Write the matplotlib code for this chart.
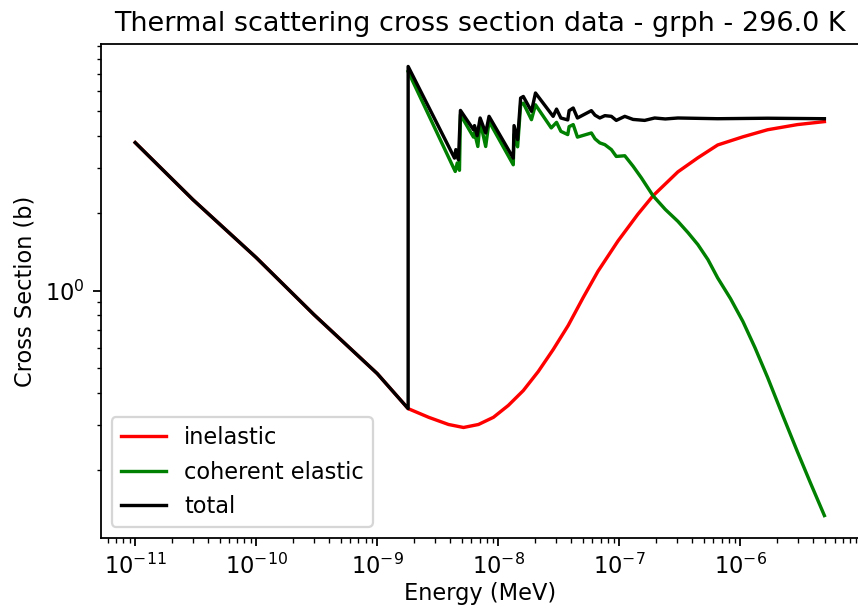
import numpy as np
import matplotlib
matplotlib.use("Agg")
import matplotlib.pyplot as plt

# energies in MeV, cross sections in barns
inel_E = [1e-11, 3e-11, 1e-10, 3e-10, 1e-9, 1.80e-9, 2.66e-9, 3.88e-9, 5.16e-9,
          6.86e-9, 9.12e-9, 1.21e-8, 1.61e-8, 2.14e-8, 2.84e-8, 3.78e-8, 5.02e-8,
          6.67e-8, 9.75e-8, 1.42e-7, 1.90e-7, 3.05e-7, 4.46e-7, 6.50e-7, 1.05e-6,
          1.68e-6, 2.96e-6, 4.95e-6]
inel_xs = [3.77, 2.26, 1.344, 0.806, 0.475, 0.347, 0.321, 0.301, 0.293,
           0.301, 0.321, 0.357, 0.408, 0.484, 0.589, 0.731, 0.938,
           1.19, 1.56, 1.98, 2.34, 2.90, 3.29, 3.69, 3.97,
           4.23, 4.43, 4.55]

coh_E = [1.80e-9, 4.41e-9, 4.58e-9, 4.78e-9, 4.87e-9, 6.24e-9, 6.36e-9, 6.78e-9,
         7.08e-9, 7.87e-9, 8.39e-9, 1.33e-8, 1.35e-8, 1.445e-8, 1.53e-8, 1.61e-8,
         1.88e-8, 2.03e-8, 2.74e-8, 3.03e-8, 3.29e-8, 3.75e-8, 3.85e-8, 4.16e-8,
         4.51e-8, 5.88e-8, 6.30e-8, 6.90e-8, 7.60e-8, 8.60e-8, 9.44e-8, 1.11e-7,
         1.30e-7, 1.52e-7, 1.90e-7, 2.40e-7, 3.05e-7, 3.70e-7, 4.46e-7, 5.40e-7,
         6.50e-7, 8.30e-7, 1.05e-6, 1.32e-6, 1.68e-6, 2.22e-6, 2.96e-6, 3.80e-6,
         4.95e-6]
coh_xs = [7.13, 2.91, 3.14, 2.94, 4.84, 3.96, 4.13, 3.64,
          4.56, 3.64, 4.56, 3.09, 4.05, 3.63, 5.29, 5.37,
          4.63, 5.29, 4.30, 4.52, 4.17, 4.05, 4.35, 4.43,
          3.96, 4.11, 3.90, 3.76, 3.70, 3.54, 3.33, 3.35,
          3.05, 2.75, 2.34, 2.07, 1.86, 1.68, 1.51, 1.32,
          1.12, 0.93, 0.758, 0.60, 0.459, 0.33, 0.236, 0.178,
          0.133]

tot_E = [1e-11, 3e-11, 1e-10, 3e-10, 1e-9, 1.80e-9, 1.80e-9, 4.35e-9, 4.46e-9,
         4.69e-9, 4.87e-9, 6.24e-9, 6.36e-9, 6.69e-9, 7.08e-9, 7.87e-9, 8.39e-9,
         1.33e-8, 1.35e-8, 1.445e-8, 1.53e-8, 1.61e-8, 1.88e-8, 2.03e-8, 2.84e-8,
         3.03e-8, 3.29e-8, 3.75e-8, 3.85e-8, 4.16e-8, 4.51e-8, 5.88e-8, 6.30e-8,
         6.90e-8, 7.60e-8, 8.60e-8, 9.44e-8, 1.11e-7, 1.30e-7, 1.62e-7, 1.96e-7,
         2.40e-7, 3.05e-7, 6.50e-7, 1.68e-6, 4.95e-6]
tot_xs = [3.77, 2.26, 1.344, 0.806, 0.475, 0.347, 7.46, 3.28, 3.54,
          3.23, 5.03, 4.23, 4.39, 4.01, 4.70, 4.11, 4.77,
          3.28, 4.39, 3.87, 5.62, 5.70, 4.99, 5.88, 4.77,
          5.09, 4.70, 4.62, 5.02, 5.14, 4.70, 5.02, 4.82,
          4.70, 4.80, 4.77, 4.60, 4.77, 4.64, 4.60, 4.70,
          4.66, 4.70, 4.67, 4.69, 4.67]

fig = plt.figure(figsize=(858/162, 608/162), dpi=162)
ax = fig.add_axes([0.1174, 0.1151, 0.8836, 0.8125])

ax.loglog(inel_E, inel_xs, color='red', label='inelastic')
ax.loglog(coh_E, coh_xs, color='green', label='coherent elastic')
ax.loglog(tot_E, tot_xs, color='black', label='total')

ax.set_xlabel('Energy (MeV)', labelpad=1.5)
ax.set_ylabel('Cross Section (b)')
ax.set_title('Thermal scattering cross section data - grph - 296.0 K')
ax.legend(loc='lower left')

fig.savefig('out.png', dpi=162)
